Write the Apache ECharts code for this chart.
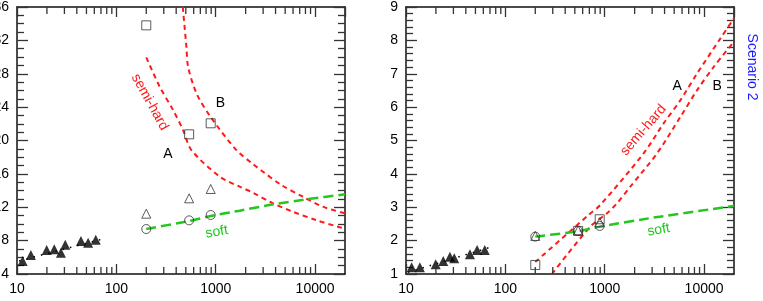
<!DOCTYPE html>
<html><head><meta charset="utf-8">
<script src="https://cdn.jsdelivr.net/npm/echarts@6/dist/echarts.min.js"></script>
<style>html,body{margin:0;padding:0;background:#fff}#c{width:763px;height:301px}</style>
</head><body><div id="c"></div>
<script>
// ---------- data ----------
const xTicksMinor = [20,30,40,50,60,70,80,90,200,300,400,500,600,700,800,900,2000,3000,4000,5000,6000,7000,8000,9000];
const xData = [11.4, 13.8, 19.9, 23.7, 27.7, 30.6, 44, 52, 62];
const leftDataY = [5.56, 6.28, 6.88, 6.96, 6.55, 7.51, 7.95, 7.75, 8.11];
const rightDataY = [1.20, 1.20, 1.29, 1.39, 1.52, 1.47, 1.59, 1.72, 1.72];
const leftTrendX = [10.5, 71];
const leftTrendY = [5.57, 8.16];
const rightTrendX = [10.5, 72];
const rightTrendY = [1.05, 1.81];

const xSym = [200, 540, 890];
const leftSquare = [33.8, 20.74, 22.06];
const leftTri = [11.23, 13.07, 14.19];
const leftCircle = [9.39, 10.43, 11.07];
const rightSquare = [1.27, 2.29, 2.64];
const rightTri = [2.14, 2.31, 2.55];
const rightCircle = [2.12, 2.29, 2.44];

const leftAX = [200,273,372,469,569,1100,1742,2370,3770,5950,10200,16940,20000];
const leftAY = [29.97,26.45,23.66,21.26,18.86,15.66,14.46,13.74,12.47,11.47,10.47,9.67,9.45];
const leftBX = [466,507,527,640,885,1614,2370,2985,4570,7540,11970,20000];
const leftBY = [36,31.2,28.85,25.66,22.85,18.86,17.18,16.26,14.67,13.26,12.07,11.27];
const leftSoftX = [200,540,890,1742,3770,8170,20000];
const leftSoftY = [9.39,10.35,10.95,11.59,12.35,12.95,13.55];

const rightAX = [200,689,903,2470,3930,5780,8510,14620,20000];
const rightAY = [1.36,2.77,3.07,4.62,5.52,6.21,7.01,8.06,8.66];
const rightBX = [294,716,1054,1330,1811,3370,5780,8510,12530,20000];
const rightBY = [1.0,2.42,2.82,3.12,3.62,4.62,5.71,6.51,7.21,7.96];
const rightSoftX = [200,540,890,3110,20000];
const rightSoftY = [2.12,2.28,2.42,2.69,3.04];

const leftY = {min: 4, max: 36, interval: 4, minor: 4};
const rightY = {min: 1, max: 9, interval: 1, minor: 5};
const xRange = {min: 10, max: 20000};

// annotations: [text, x, y, rotationDeg, color]
const leftNotes = [["semi-hard", 217, 24.6, -61, "#ff1a1a"], ["A", 330, 18.4, 0, "#000"], ["B", 1114, 24.5, 0, "#000"], ["soft", 1024, 9.03, 10, "#22c81e"]];
const rightNotes = [["semi-hard", 2450, 5.31, 49, "#ff1a1a"], ["A", 5360, 6.63, 0, "#000"], ["B", 13550, 6.63, 0, "#000"], ["soft", 3490, 2.32, 10, "#22c81e"]];
const sideTitle = ["Scenario 2", 20000, 7.2, "#1a1aff"];

// ---------- chart ----------
const zip = (a, b) => a.map((v, i) => [v, b[i]]);
const FONT = 'Liberation Sans';
const AX = '#111', TK = '#333';

function xAxis(gi, pos) {
  return {type: 'log', logBase: 10, gridIndex: gi, position: pos, min: xRange.min, max: xRange.max,
    axisLine: {show: true, onZero: false, lineStyle: {color: AX, width: 1.5}},
    axisTick: {show: true, inside: true, length: 10, lineStyle: {color: TK, width: 1.3}},
    axisLabel: {show: pos === 'bottom', margin: 8, fontSize: 14, color: '#000', fontFamily: FONT,
      formatter: v => String(Math.round(v))},
    splitLine: {show: false}};
}
function yAxis(gi, pos, cfg) {
  return {type: 'value', gridIndex: gi, position: pos, min: cfg.min, max: cfg.max, interval: cfg.interval,
    axisLine: {show: true, onZero: false, lineStyle: {color: AX, width: 1.5}},
    axisTick: {show: true, inside: true, length: 11, lineStyle: {color: TK, width: 1.3}},
    minorTick: {show: true, splitNumber: cfg.minor, length: 7, lineStyle: {color: TK, width: 1.3}},
    axisLabel: {show: pos === 'left', margin: 8, fontSize: 14, color: '#000', fontFamily: FONT},
    splitLine: {show: false}, minorSplitLine: {show: false}};
}
function minorTicks(xi, yi, cfg) {
  return {type: 'custom', xAxisIndex: xi, yAxisIndex: yi, silent: true, clip: false, z: 5,
    data: xTicksMinor.map(v => [v, cfg.min]),
    renderItem: (p, api) => {
      const b = api.coord([api.value(0), cfg.min]);
      const t = api.coord([api.value(0), cfg.max]);
      const st = {stroke: TK, lineWidth: 1.3};
      return {type: 'group', children: [
        {type: 'line', shape: {x1: b[0], y1: b[1], x2: b[0], y2: b[1] - 7}, style: st},
        {type: 'line', shape: {x1: t[0], y1: t[1], x2: t[0], y2: t[1] + 7}, style: st}]};
    }};
}
function scatter(xi, yi, data, sym, size, filled) {
  return {type: 'scatter', xAxisIndex: xi, yAxisIndex: yi, data, symbol: sym, symbolSize: size, z: 4,
    itemStyle: filled ? {color: '#000'} : {color: 'rgba(0,0,0,0)', borderColor: '#333', borderWidth: 1}};
}
function line(xi, yi, data, color, width, type, smooth) {
  return {type: 'line', xAxisIndex: xi, yAxisIndex: yi, data, showSymbol: false, symbol: 'none', smooth: smooth, z: 3,
    lineStyle: {color, width, type}};
}
const RED = '#ff1a1a', GREEN = '#22c81e';

function panel(xi, yi, d) {
  return [
    line(xi, yi, zip(d.trendX, d.trendY), '#000', 1.5, [1.5, 6], false),
    scatter(xi, yi, zip(xData, d.dataY), 'triangle', 10, true),
    line(xi, yi, zip(d.ax, d.ay), RED, 2, [5, 4], 0.3),
    line(xi, yi, zip(d.bx, d.by), RED, 2, [5, 4], 0.3),
    line(xi, yi, zip(d.sx, d.sy), GREEN, 2.5, [10, 5], 0.2),
    scatter(xi, yi, zip(xSym, d.sq), 'rect', 9, false),
    scatter(xi, yi, zip(xSym, d.tri), 'triangle', 9, false),
    scatter(xi, yi, zip(xSym, d.circ), 'circle', 9, false),
  ];
}

const chart = echarts.init(document.getElementById('c'), null, {renderer: 'canvas'});
chart.setOption({
  animation: false,
  backgroundColor: '#fff',
  grid: [
    {left: 17, right: 418, top: 7, bottom: 27, containLabel: false, outerBoundsMode: 'none'},
    {left: 406, right: 29, top: 7, bottom: 27, containLabel: false, outerBoundsMode: 'none'}
  ],
  xAxis: [xAxis(0, 'bottom'), xAxis(0, 'top'), xAxis(1, 'bottom'), xAxis(1, 'top')],
  yAxis: [yAxis(0, 'left', leftY), yAxis(0, 'right', leftY), yAxis(1, 'left', rightY), yAxis(1, 'right', rightY)],
  series: [
    minorTicks(0, 0, leftY),
    minorTicks(2, 2, rightY),
    ...panel(0, 0, {trendX: leftTrendX, trendY: leftTrendY, dataY: leftDataY, ax: leftAX, ay: leftAY, bx: leftBX, by: leftBY,
      sx: leftSoftX, sy: leftSoftY, sq: leftSquare, tri: leftTri, circ: leftCircle}),
    ...panel(2, 2, {trendX: rightTrendX, trendY: rightTrendY, dataY: rightDataY, ax: rightAX, ay: rightAY, bx: rightBX, by: rightBY,
      sx: rightSoftX, sy: rightSoftY, sq: rightSquare, tri: rightTri, circ: rightCircle})
  ]
});

function note(n, xi, yi) {
  const p = chart.convertToPixel({xAxisIndex: xi, yAxisIndex: yi}, [n[1], n[2]]);
  return {type: 'text', x: p[0], y: p[1], rotation: n[3] * Math.PI / 180, z: 10,
    style: {text: n[0], fill: n[4], font: '14px ' + FONT, align: 'center', verticalAlign: 'middle'}};
}
const g = [...leftNotes.map(n => note(n, 0, 0)), ...rightNotes.map(n => note(n, 2, 2))];
const sp = chart.convertToPixel({xAxisIndex: 2, yAxisIndex: 2}, [sideTitle[1], sideTitle[2]]);
g.push({type: 'text', x: sp[0] + 18, y: sp[1], rotation: -Math.PI / 2, z: 10,
  style: {text: sideTitle[0], fill: sideTitle[3], font: '14px ' + FONT, align: 'center', verticalAlign: 'middle'}});
chart.setOption({graphic: g});
</script></body></html>
